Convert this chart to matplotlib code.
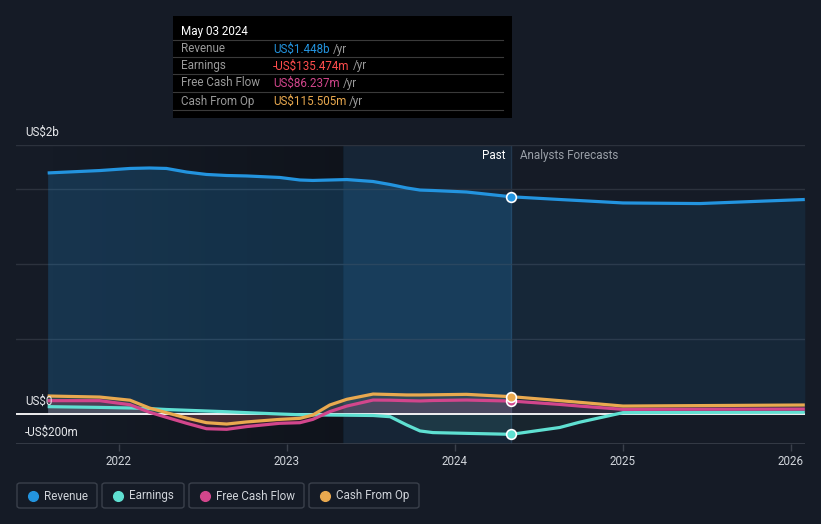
import matplotlib
matplotlib.use("Agg")
import matplotlib.pyplot as plt
import numpy as np
import pandas as pd
from matplotlib.patches import FancyBboxPatch, Rectangle
from matplotlib.lines import Line2D
from matplotlib.colors import LinearSegmentedColormap

plt.rcParams['font.family'] = ['Roboto', 'DejaVu Sans']

# ---------------- data ----------------
past_dates = ["2021-07-30", "2021-11-20", "2022-01-25", "2022-03-08", "2022-04-14",
              "2022-05-28", "2022-07-10", "2022-08-23", "2022-10-05", "2022-12-16",
              "2023-01-29", "2023-02-26", "2023-04-04", "2023-05-11", "2023-07-07",
              "2023-08-13", "2023-09-18", "2023-10-17", "2023-11-14", "2024-01-26",
              "2024-05-03"]
fc_dates = ["2024-05-03", "2024-08-16", "2024-09-28", "2025-01-01", "2025-06-17", "2026-01-31"]

# values in US$ millions
revenue_past = [1607, 1623, 1637, 1640, 1637, 1613, 1597, 1590, 1587, 1577,
                1560, 1557, 1560, 1563, 1550, 1530, 1507, 1493, 1490, 1480, 1448]
earnings_past = [49, 44, 40, 36, 30, 25, 20, 15, 9, 0,
                 -5, -6, -7, -8, -10, -18, -73, -113, -124, -129, -135.474]
fcf_past = [89, 89, 62, 12, -22, -62, -98, -102, -84, -62,
            -58, -36, 16, 53, 93, 92, 89, 87, 90, 93, 86.237]
cfo_past = [120, 113, 92, 40, 9, -27, -58, -67, -53, -36,
            -29, -7, 60, 98, 133, 130, 127, 127, 128, 131, 115.505]

revenue_fc = [1448, 1430, 1423, 1407, 1403, 1430]
earnings_fc = [-135.474, -90, -55, 9, 11, 12]
fcf_fc = [86.237, 64, 53, 31, 32, 33]
cfo_fc = [115.505, 89, 78, 53, 56, 60]

year_ticks = [2022, 2023, 2024, 2025, 2026]

tooltip_date = "May 03 2024"
tooltip_rows = [("Revenue", "US$1.448b", "#2394df"),
                ("Earnings", "-US$135.474m", "#ff4d4d"),
                ("Free Cash Flow", "US$86.237m", "#d2468c"),
                ("Cash From Op", "US$115.505m", "#e9a94f")]

C_REV = "#2394df"
C_EARN = "#5fe0d2"
C_FCF = "#d2468c"
C_CFO = "#e9a94f"
BG = "#151b26"
FS = 8.4


def to_year(ds):
    d = pd.to_datetime(ds)
    days = np.where(d.is_leap_year, 366, 365)
    return np.asarray(d.year + (d.dayofyear - 1) / days, dtype=float)


xp = to_year(past_dates)
xf = to_year(fc_dates)

W, H = 821, 524
fig = plt.figure(figsize=(W / 100, H / 100), dpi=100, facecolor=BG)


def fx(px):
    return px / W


def fy(py):
    return 1 - py / H


ax = fig.add_axes([fx(16), fy(444), fx(805) - fx(16), fy(145) - fy(444)])
ax.set_facecolor(BG)
for s in ax.spines.values():
    s.set_visible(False)

x_left = 2022 + (16 - 119) / 168
x_right = 2026 + (805 - 791) / 168
y_top = (414 - 145) / 150 * 1000
ax.set_xlim(x_left, x_right)
ax.set_ylim(-200, y_top)

# past darkening gradient
x_now = xp[-1]
x_band = to_year(["2023-05-03"])[0]
grad = np.linspace(0, 1, 256).reshape(1, -1)
cm = LinearSegmentedColormap.from_list("g", [(0, 0, 0, 0.0), (0, 0, 0, 0.28)])
ax.imshow(grad, extent=[xp[0], x_band, -200, y_top], aspect='auto', cmap=cm,
          zorder=0.5, interpolation='bilinear')
# highlight last year band
ax.axvspan(x_band, x_now, color=C_REV, alpha=0.09, lw=0, zorder=0.6)
ax.axvline(x_now, color="#22374d", lw=1, zorder=0.7)

# gridlines
for v in [500, 1000, 1500, y_top - 1]:
    ax.axhline(v, color="#2c323d", lw=1, zorder=0.8)
ax.axhline(-199, color="#3a404b", lw=1.2, zorder=0.8)

# fills
ax.fill_between(xp, 0, revenue_past, color=C_REV, alpha=0.22, lw=0, zorder=1)
ax.fill_between(xf, 0, revenue_fc, color=C_REV, alpha=0.10, lw=0, zorder=1)
for xs, ys, c, a in [(xp, cfo_past, C_CFO, 0.12), (xp, fcf_past, C_FCF, 0.16),
                     (xp, earnings_past, C_EARN, 0.10),
                     (xf, cfo_fc, C_CFO, 0.05), (xf, fcf_fc, C_FCF, 0.08),
                     (xf, earnings_fc, C_EARN, 0.05)]:
    ax.fill_between(xs, 0, ys, color=c, alpha=a, lw=0, zorder=1.2)

ax.axhline(0, color="white", lw=1.3, zorder=2)

# lines
lw = 2.3
for xs, ys, c in [(xp, revenue_past, C_REV), (xf, revenue_fc, C_REV),
                  (xp, earnings_past, C_EARN), (xf, earnings_fc, C_EARN),
                  (xp, fcf_past, C_FCF), (xf, fcf_fc, C_FCF),
                  (xp, cfo_past, C_CFO), (xf, cfo_fc, C_CFO)]:
    ax.plot(xs, ys, color=c, lw=lw, zorder=3, solid_capstyle='butt', solid_joinstyle='round')

# markers at current date
for v, c in [(revenue_past[-1], C_REV), (earnings_past[-1], C_EARN),
             (fcf_past[-1], C_FCF), (cfo_past[-1], C_CFO)]:
    ax.plot([x_now], [v], 'o', ms=7, mfc=c, mec="white", mew=1.2, zorder=4)

# x ticks
ax.set_xticks(year_ticks)
ax.set_xticklabels([str(y) for y in year_ticks])
ax.tick_params(axis='x', colors="#3a404b", length=5, width=1, pad=3,
               labelcolor="#d0d4da", labelsize=FS)
ax.set_yticks([])

# y labels
fig.text(fx(25), fy(132), "US$2b", color="#e6e8eb", fontsize=FS, va='center', ha='left')
fig.text(fx(25), fy(401), "US$0", color="#e6e8eb", fontsize=FS, va='center', ha='left')
fig.text(fx(25), fy(432), "-US$200m", color="#e6e8eb", fontsize=FS, va='center', ha='left')

fig.text(fx(505), fy(156), "Past", color="#ffffff", fontsize=FS, va='center', ha='right')
fig.text(fx(520), fy(156), "Analysts Forecasts", color="#9aa0a8", fontsize=FS, va='center', ha='left')

# tooltip
fig.patches.append(Rectangle((fx(173), fy(118)), fx(512) - fx(173), fy(16) - fy(118),
                             transform=fig.transFigure, facecolor="black", edgecolor="none", zorder=5))
fig.text(fx(181), fy(31), tooltip_date, color="white", fontsize=FS, va='center', ha='left', zorder=6)
row_y = [49, 66, 83, 101]
for (lab, val, col), yy in zip(tooltip_rows, row_y):
    fig.lines.append(Line2D([fx(173), fx(503)], [fy(yy - 9), fy(yy - 9)], transform=fig.transFigure,
                            color="#3a3a3a", lw=0.8, zorder=6))
    fig.text(fx(181), fy(yy), lab, color="#9a9a9a", fontsize=FS, va='center', ha='left', zorder=6)
    t = fig.text(fx(273), fy(yy), val, color=col, fontsize=FS, va='center', ha='left', zorder=6)
    fig.canvas.draw()
    bb = t.get_window_extent()
    fig.text(bb.x1 / W + fx(3), fy(yy), "/yr", color="#9a9a9a", fontsize=FS, va='center', ha='left', zorder=6)
fig.lines.append(Line2D([fx(173), fx(503)], [fy(110), fy(110)], transform=fig.transFigure,
                        color="#3a3a3a", lw=0.8, zorder=6))

# legend
legend_items = [("Revenue", C_REV, 17, 97), ("Earnings", C_EARN, 102, 184),
                ("Free Cash Flow", C_FCF, 189, 304), ("Cash From Op", C_CFO, 309, 419)]
for lab, col, x0, x1 in legend_items:
    fig.patches.append(FancyBboxPatch((fx(x0), fy(508)), fx(x1) - fx(x0), fy(483) - fy(508),
                                      boxstyle="round,pad=0,rounding_size=0.004",
                                      transform=fig.transFigure, facecolor="none",
                                      edgecolor="#3a404b", lw=1))
    fig.lines.append(Line2D([fx(x0 + 16)], [fy(496)], marker='o', ms=7, color=col,
                            transform=fig.transFigure, lw=0))
    fig.text(fx(x0 + 27), fy(496), lab, color="#d0d4da", fontsize=FS, va='center', ha='left')

fig.savefig("out.png", dpi=100, facecolor=BG)
